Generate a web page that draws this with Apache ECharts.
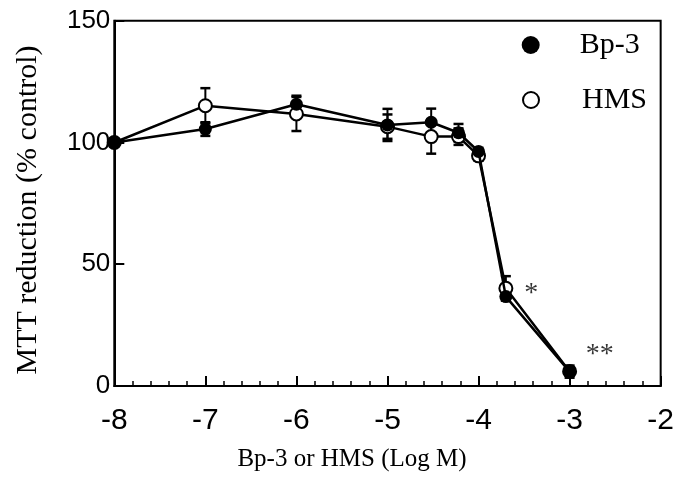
<!DOCTYPE html>
<html>
<head>
<meta charset="utf-8">
<script src="https://cdn.jsdelivr.net/npm/echarts@6/dist/echarts.min.js"></script>
<style>
html,body{margin:0;padding:0;background:#fff;}
#chart{width:677px;height:496px;}
</style>
</head>
<body>
<div id="chart"></div>
<script>
// log concentration (Log M)
var logConc = [-8, -7, -6, -5, -4.52, -4.22, -4, -3.7, -3];
// MTT reduction (% control)
var bp3Values = [100, 105.5, 115.7, 107.2, 108.3, 104, 96.3, 36.7, 5.9];
var bp3Errors = [0, 2.8, 3.5, 6.6, 5.6, 3.6, 1.5, 1.5, 2.5];
var hmsValues = [100, 115.1, 111.7, 106.5, 102.4, 102.4, 94.5, 40.1, 6.0];
var hmsErrors = [0, 7.2, 7.0, 5.0, 7.0, 3.4, 2.0, 5.0, 0];
// significance marks
var markX = [-3.42, -2.67];
var markY = [38, 13];
var markText = ['*', '**'];
// axis ticks
var xTicks = [-8, -7, -6, -5, -4, -3, -2];
var yTicks = [0, 50, 100, 150];

function pairs(xs, ys) { return xs.map(function (x, i) { return [x, ys[i]]; }); }
function triples(xs, ys, es) { return xs.map(function (x, i) { return [x, ys[i], es[i]]; }); }

function errRender(params, api) {
  var x = api.value(0), y = api.value(1), e = api.value(2);
  if (!e) return null;
  var hi = api.coord([x, y + e]);
  var lo = api.coord([x, y - e]);
  var w = 5;
  var st = { stroke: '#000', lineWidth: 2 };
  var cap = { stroke: '#000', lineWidth: 2.5 };
  return {
    type: 'group',
    children: [
      { type: 'line', shape: { x1: hi[0], y1: hi[1], x2: lo[0], y2: lo[1] }, style: st },
      { type: 'line', shape: { x1: hi[0] - w, y1: hi[1], x2: hi[0] + w, y2: hi[1] }, style: cap },
      { type: 'line', shape: { x1: lo[0] - w, y1: lo[1], x2: lo[0] + w, y2: lo[1] }, style: cap }
    ]
  };
}

var chart = echarts.init(document.getElementById('chart'), null, { renderer: 'canvas' });
var serif = 'Liberation Serif, Times New Roman, serif';
var sans = 'Liberation Sans, Arial, Helvetica, sans-serif';

chart.setOption({
  animation: false,
  backgroundColor: '#fff',
  grid: {
    left: 114.3, right: 12.7, top: 20.7, bottom: 110,
    show: true, borderColor: '#000', borderWidth: 2, backgroundColor: 'transparent'
  },
  legend: [
    {
      orient: 'vertical', left: 521.7, top: 30, padding: 0,
      itemWidth: 18, itemHeight: 18,
      data: [{ name: 'Bp-3', icon: 'circle', itemStyle: { color: '#000', borderWidth: 0 } }],
      textStyle: { fontFamily: serif, fontSize: 30, color: '#000', padding: [0, 0, 0, 35] },
      selectedMode: false
    },
    {
      orient: 'vertical', left: 522, top: 85, padding: 0,
      itemWidth: 16, itemHeight: 16,
      data: [{ name: 'HMS', icon: 'circle', itemStyle: { color: '#fff', borderColor: '#000', borderWidth: 2 } }],
      textStyle: { fontFamily: serif, fontSize: 30, color: '#000', padding: [0, 0, 0, 38] },
      selectedMode: false
    }
  ],
  xAxis: {
    type: 'value', min: xTicks[0], max: xTicks[xTicks.length - 1], interval: 1,
    axisLine: { show: true, lineStyle: { color: '#000', width: 2 } },
    axisTick: { show: true, inside: true, length: 10, lineStyle: { color: '#000', width: 2 } },
    minorTick: { show: true, splitNumber: 5, length: 5, lineStyle: { color: '#000', width: 1.5 } },
    splitLine: { show: false },
    axisLabel: { fontFamily: sans, fontSize: 30, color: '#000', margin: 20 }
  },
  yAxis: {
    type: 'value', min: yTicks[0], max: yTicks[yTicks.length - 1], interval: 50,
    axisLine: { show: true, lineStyle: { color: '#000', width: 2 } },
    axisTick: { show: true, inside: true, length: 10, lineStyle: { color: '#000', width: 2 } },
    splitLine: { show: false },
    axisLabel: { fontFamily: sans, fontSize: 26, color: '#000', margin: 4 }
  },
  graphic: [
    {
      type: 'text', x: 352, y: 459,
      style: { text: 'Bp-3 or HMS (Log M)', font: '25px ' + serif, fill: '#000', textAlign: 'center', textVerticalAlign: 'middle' }
    },
    {
      type: 'text', x: 28, y: 210, rotation: Math.PI / 2,
      style: { text: 'MTT reduction (% control)', font: '30px ' + serif, fill: '#000', textAlign: 'center', textVerticalAlign: 'middle' }
    }
  ],
  series: [
    {
      name: 'Bp-3 err', type: 'custom', renderItem: errRender, z: 1, silent: true,
      data: triples(logConc, bp3Values, bp3Errors), encode: { x: 0, y: 1 }
    },
    {
      name: 'HMS err', type: 'custom', renderItem: errRender, z: 1, silent: true,
      data: triples(logConc, hmsValues, hmsErrors), encode: { x: 0, y: 1 }
    },
    {
      name: 'HMS', type: 'line', z: 2,
      data: pairs(logConc, hmsValues),
      symbol: 'circle', symbolSize: 13,
      itemStyle: { color: '#fff', borderColor: '#000', borderWidth: 2 },
      lineStyle: { color: '#000', width: 2.5 }
    },
    {
      name: 'Bp-3', type: 'line', z: 3,
      data: pairs(logConc, bp3Values),
      symbol: 'circle', symbolSize: 13,
      itemStyle: { color: '#000', borderWidth: 0 },
      lineStyle: { color: '#000', width: 2.5 }
    },
    {
      name: 'marks', type: 'scatter', symbolSize: 0, silent: true,
      data: markX.map(function (x, i) { return { value: [x, markY[i]], name: markText[i] }; }),
      label: {
        show: true, position: 'inside', formatter: function (p) { return p.name; },
        fontFamily: serif, fontSize: 28, color: '#000'
      }
    }
  ]
});
</script>
</body>
</html>
